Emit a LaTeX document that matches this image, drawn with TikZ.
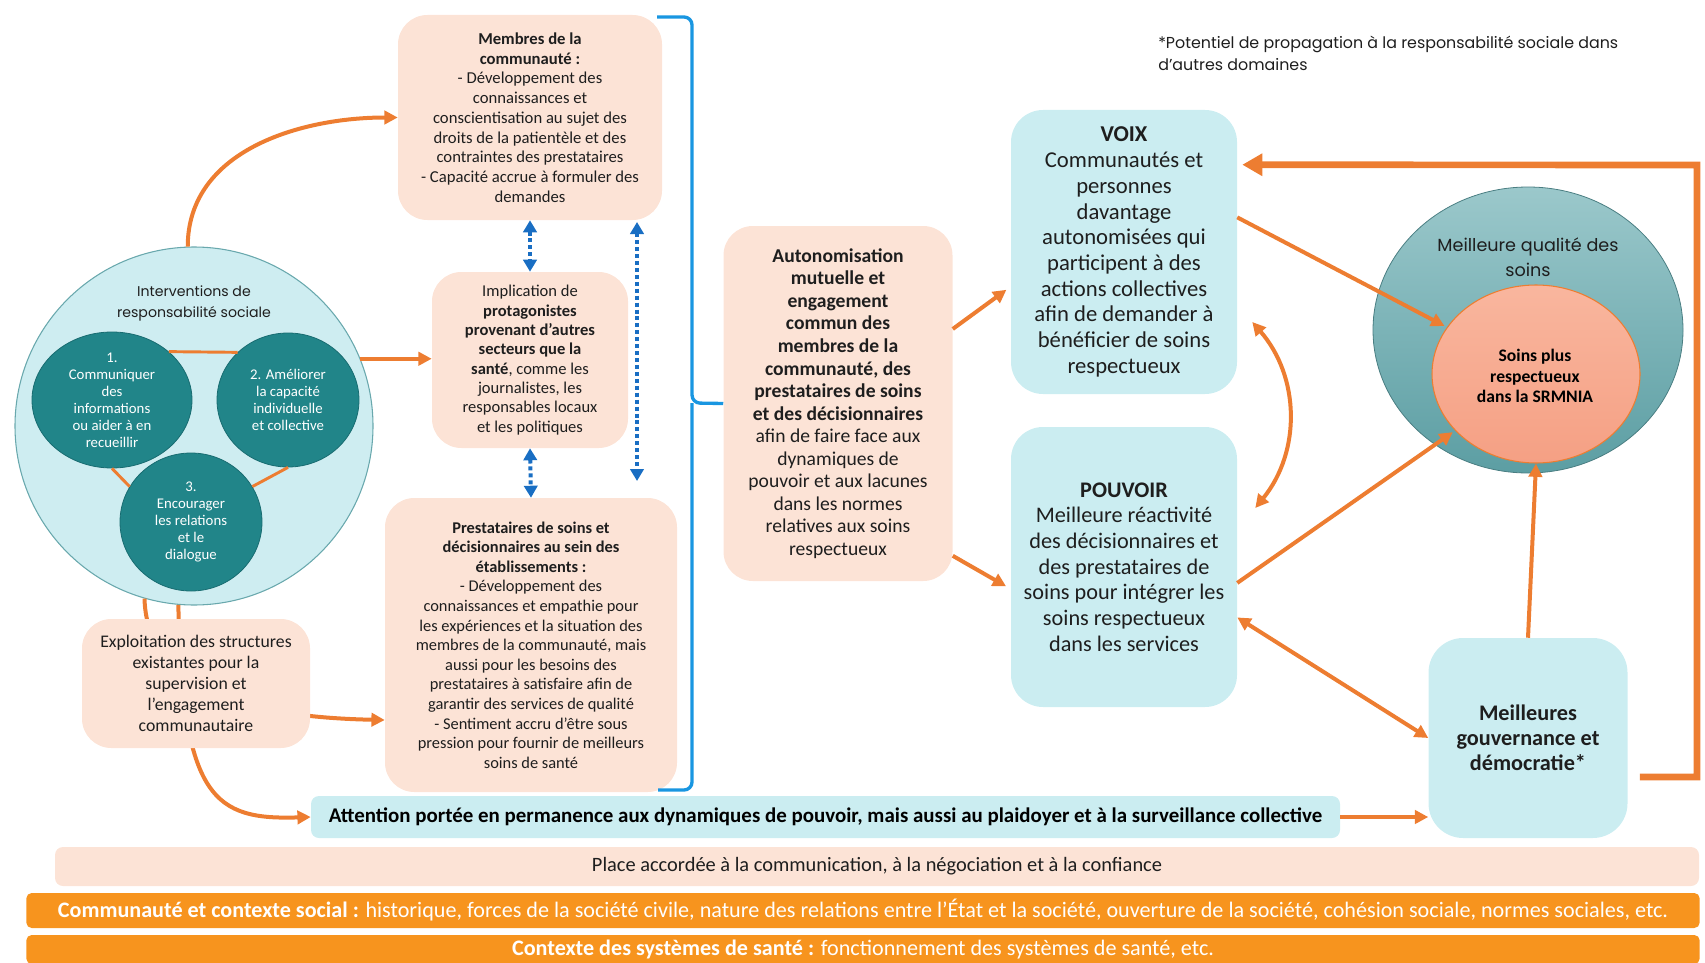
\documentclass[tikz,border=0pt]{standalone}
\usepackage{fontspec}
\setmainfont{Carlito}
\newfontfamily\geo{Poppins}
\usepackage{tikz}
\usetikzlibrary{positioning,shapes.geometric,arrows.meta,calc}
\definecolor{peachfill}{RGB}{252,227,214}
\definecolor{coolfill}{RGB}{203,237,241}
\definecolor{ringfill}{RGB}{206,237,241}
\definecolor{ringline}{RGB}{105,168,173}
\definecolor{tealfill}{RGB}{33,133,137}
\definecolor{tealline}{RGB}{24,108,113}
\definecolor{arrowc}{RGB}{237,125,49}
\definecolor{bandc}{RGB}{247,148,30}
\definecolor{bracec}{RGB}{25,150,225}
\definecolor{dotc}{RGB}{25,110,195}
\definecolor{qualtop}{RGB}{155,200,203}
\definecolor{qualbot}{RGB}{92,158,163}
\definecolor{salmontop}{RGB}{249,182,158}
\definecolor{salmonbot}{RGB}{245,160,132}
\definecolor{ink}{RGB}{30,30,30}
\tikzset{
  warm/.style={fill=peachfill, rounded corners=22pt, align=center, text=ink, inner sep=0pt},
  cool/.style={fill=coolfill, rounded corners=24pt, align=center, text=ink, inner sep=0pt},
  ring/.style={ellipse, draw=tealline, fill=tealfill, line width=0.6pt, text=white, align=center, inner sep=-9pt, font=\fontsize{11.1}{12.75}\selectfont},
  geotext/.style={align=center, text=ink, inner sep=0pt},
  band/.style={fill=bandc, rounded corners=4pt, text=white, inner sep=0pt, font=\fontsize{16.6}{18}\selectfont},
  arr/.style={->, draw=arrowc, line width=3pt},
  link/.style={draw=arrowc, line width=2.2pt},
  dotarr/.style={{Triangle[length=9pt,width=10pt]}-{Triangle[length=9pt,width=10pt]}, draw=dotc, line width=3pt, dash pattern=on 3pt off 2.2pt},
  brace/.style={draw=bracec, line width=2.5pt, rounded corners=6pt},
}

\begin{document}
\begin{tikzpicture}[x=0.75pt, y=-0.75pt, >={Triangle[length=10pt,width=10pt]}]
\useasboundingbox (0,0) rectangle (1705,963);

% --- interventions (left) ---
\node (big) [circle, draw=ringline, fill=ringfill, line width=0.8pt, minimum size=268.5pt, inner sep=0pt] at (194,426) {};
\node (bigtitle) [geotext, font=\geo\fontsize{10.6}{15.75}\selectfont] at (194,303) {Interventions de\\responsabilité sociale};
\node (c1) [ring, minimum width=120pt, minimum height=102pt] at (112,400) {1.\\Communiquer\\des\\informations\\ou aider à en\\recueillir};
\node (c2) [ring, minimum width=106.5pt, minimum height=100.5pt] at (288,400) {2. Améliorer\\la capacité\\individuelle\\et collective};
\node (c3) [ring, minimum width=106.5pt, minimum height=103.5pt] at (191,522) {3.\\Encourager\\les relations\\et le\\dialogue};
\draw[link] (c1.north east) -- (c2.north west);
\draw[link] (c1.south) -- (c3.150);
\draw[link] (c2.south) -- (c3.30);

% --- middle column ---
\node (memb) [warm, minimum width=198pt, minimum height=153.75pt, font=\fontsize{12.5}{14.8}\selectfont] at (530,117.5) {\textbf{Membres de la}\\\textbf{communauté :}\\- Développement des\\connaissances et\\conscientisation au sujet des\\droits de la patientèle et des\\contraintes des prestataires\\- Capacité accrue à formuler des\\demandes};
\node (impl) [warm, minimum width=147pt, minimum height=132pt, font=\fontsize{12.4}{14.5}\selectfont] at (530,360) {Implication de\\\textbf{protagonistes}\\\textbf{provenant d’autres}\\\textbf{secteurs que la}\\\textbf{santé}, comme les\\journalistes, les\\responsables locaux\\et les politiques};
\node (prest) [warm, minimum width=219pt, minimum height=220.5pt, font=\fontsize{12.3}{14.7}\selectfont] at (531,645) {\textbf{Prestataires de soins et}\\\textbf{décisionnaires au sein des}\\\textbf{établissements :}\\- Développement des\\connaissances et empathie pour\\les expériences et la situation des\\membres de la communauté, mais\\aussi pour les besoins des\\prestataires à satisfaire afin de\\garantir des services de qualité\\- Sentiment accru d’être sous\\pression pour fournir de meilleurs\\soins de santé};

\coordinate (dottop) at (637,222);
\coordinate (dotbot) at (637,481);
\draw[dotarr] (memb.south) -- (impl.north);
\draw[dotarr] (impl.south) -- (prest.north);
\draw[dotarr] (dottop) -- (dotbot);

% brace gathering the three boxes
\coordinate (brtop) at (657,17);
\coordinate (brbot) at (658,790);
\coordinate (brmid) at (692,403);
\node (auto) [warm, minimum width=171.75pt, minimum height=266.25pt, font=\fontsize{14.7}{16.9}\selectfont] at (838,403.5) {\textbf{Autonomisation}\\\textbf{mutuelle et}\\\textbf{engagement}\\\textbf{commun des}\\\textbf{membres de la}\\\textbf{communauté, des}\\\textbf{prestataires de soins}\\\textbf{et des décisionnaires}\\afin de faire face aux\\dynamiques de\\pouvoir et aux lacunes\\dans les normes\\relatives aux soins\\respectueux};
\draw[brace] (brtop) -| (brmid) -- (auto.west);
\draw[brace] (brbot) -| (brmid);

% --- voice and power ---
\node (voix) [cool, minimum width=169.5pt, minimum height=213pt, font=\fontsize{17}{19.3}\selectfont] at (1124,252) {\textbf{VOIX}\\Communautés et\\personnes\\davantage\\autonomisées qui\\participent à des\\actions collectives\\afin de demander à\\bénéficier de soins\\respectueux};
\node (pouv) [cool, minimum width=169.5pt, minimum height=210pt, font=\fontsize{16.7}{19.3}\selectfont] at (1124,567) {\textbf{POUVOIR}\\Meilleure réactivité\\des décisionnaires et\\des prestataires de\\soins pour intégrer les\\soins respectueux\\dans les services};
\node (gouv) [cool, rounded corners=26pt, minimum width=149.25pt, minimum height=150pt, font=\bfseries\fontsize{16.7}{18.75}\selectfont] at (1528,738) {Meilleures\\gouvernance et\\démocratie*};

% --- quality of care ---
\node (qual) [ellipse, draw=qualbot!80!black, top color=qualtop, bottom color=qualbot, line width=0.6pt, minimum width=232.5pt, minimum height=214.5pt, inner sep=0pt] at (1528,330) {};
\node (qualtitle) [geotext, font=\geo\fontsize{13.2}{18.75}\selectfont] at (1528,257) {Meilleure qualité des\\soins};
\node (inner) [ellipse, draw=arrowc, top color=salmontop, bottom color=salmonbot, line width=0.8pt, minimum width=156pt, minimum height=133.5pt, inner sep=0pt] at (1536,374) {};
\node (innertext) [geotext, font=\bfseries\fontsize{13.2}{15.5}\selectfont, text=black] at (1535,376) {Soins plus\\respectueux\\dans la SRMNIA};

\node (note) [geotext, anchor=north west, align=left, font=\geo\fontsize{11.9}{16.5}\selectfont] at (1158,36) {*Potentiel de propagation à la responsabilité sociale dans\\d’autres domaines};

% --- bottom bands ---
\node (attn) [cool, rounded corners=6pt, minimum width=771.75pt, minimum height=31.5pt, font=\bfseries\fontsize{15.7}{17}\selectfont, text=black] at (825.5,817) {Attention portée en permanence aux dynamiques de pouvoir, mais aussi au plaidoyer et à la surveillance collective};
\node (place) [warm, rounded corners=6pt, minimum width=1233pt, minimum height=29.25pt, font=\fontsize{15.3}{17}\selectfont] at (877,866.5) {Place accordée à la communication, à la négociation et à la confiance};
\node (social) [band, minimum width=1255pt, minimum height=26.25pt] at (863,910.5) {\textbf{Communauté et contexte social :} historique, forces de la société civile, nature des relations entre l’État et la société, ouverture de la société, cohésion sociale, normes sociales, etc.};
\node (sante) [band, minimum width=1255pt, minimum height=21.75pt] at (863,949.5) {\textbf{Contexte des systèmes de santé :} fonctionnement des systèmes de santé, etc.};

% --- orange arrows ---
\draw[arr] (big.92) to[out=90,in=180] (memb.west);
\draw[arr] (big.22) -- (impl.west |- big.22);
\draw[arr] (big.254) .. controls (147,705) and (290,718) .. ($(prest.west)+(0,75)$);
\draw[arr] (big.265) .. controls (182,800) and (215,820) .. (attn.west);
\draw[arr, shorten >=4pt] (auto.33) -- (voix.197);
\draw[arr, shorten >=4pt] (auto.-53) -- (pouv.191);
\draw[arr, shorten >=2pt] (voix.17) -- (inner);
\draw[arr, shorten >=2pt] (pouv.-8) -- (inner);
\draw[arr] (gouv.north) -- (inner.south);
\draw[arr, <->] (pouv.-24) -- (gouv.west);
\draw[arr] (attn.east) -- (attn.east -| gouv.west);
\draw[arr, <->] ($(voix.east)+(15,70)$) to[bend left=40] ($(pouv.east)+(18,-59)$);
\coordinate (loopcorner) at (1697,165);
\draw[arrowc, line width=5pt, -{Triangle[length=15pt,width=16pt]}] ($(gouv.east)+(12,39)$) -| (loopcorner) -- ($(voix.north east)+(5,55)$);

% --- structures box sits over the two curved arrows ---
\node (expl) [warm, minimum width=171pt, minimum height=96.75pt, font=\fontsize{13.3}{15.75}\selectfont] at (196,683.5) {Exploitation des structures\\existantes pour la\\supervision et\\l’engagement\\communautaire};

\end{tikzpicture}
\end{document}
